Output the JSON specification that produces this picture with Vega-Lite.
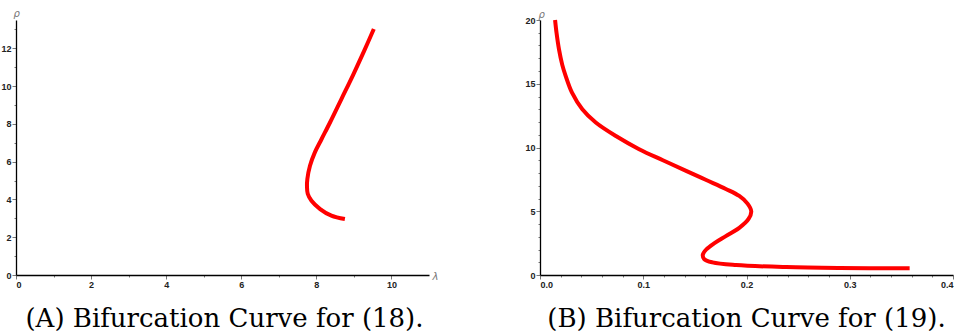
{
  "$schema": "https://vega.github.io/schema/vega-lite/v6.json",
  "padding": {"left": 0, "top": 8, "right": 0, "bottom": 0},
  "background": "white",
  "spacing": 111,
  "bounds": "flush",
  "config": {
    "view": {"stroke": null},
    "axis": {
      "labelFont": "Liberation Sans",
      "labelFontWeight": "bold",
      "labelFontSize": 9,
      "labelColor": "#222222",
      "domainColor": "#000000",
      "domainWidth": 1.3,
      "tickColor": "#555555",
      "tickWidth": 0.8,
      "grid": false,
      "titleFont": "DejaVu Sans",
      "titleFontStyle": "italic",
      "titleFontWeight": "normal",
      "titleFontSize": 10,
      "titleColor": "#777777",
      "labelPadding": 1
    },
    "title": {
      "font": "DejaVu Serif",
      "fontSize": 26,
      "fontWeight": "normal",
      "color": "#000000",
      "orient": "bottom",
      "anchor": "middle"
    }
  },
  "datasets": {
    "a": [
      {"i": 0, "lam": 8.76, "rho": 2.96},
      {"i": 1, "lam": 8.40, "rho": 3.14},
      {"i": 2, "lam": 8.10, "rho": 3.49},
      {"i": 3, "lam": 7.87, "rho": 3.93},
      {"i": 4, "lam": 7.77, "rho": 4.30},
      {"i": 5, "lam": 7.75, "rho": 4.70},
      {"i": 6, "lam": 7.76, "rho": 5.08},
      {"i": 7, "lam": 7.83, "rho": 5.78},
      {"i": 8, "lam": 7.96, "rho": 6.49},
      {"i": 9, "lam": 8.14, "rho": 7.20},
      {"i": 10, "lam": 8.37, "rho": 8.10},
      {"i": 11, "lam": 8.67, "rho": 9.33},
      {"i": 12, "lam": 8.98, "rho": 10.60},
      {"i": 13, "lam": 9.27, "rho": 11.85},
      {"i": 14, "lam": 9.53, "rho": 13.02}
    ],
    "b": [
      {"i": 0, "lam": 0.0146, "rho": 20.0},
      {"i": 1, "lam": 0.0160, "rho": 19.0},
      {"i": 2, "lam": 0.0184, "rho": 17.7},
      {"i": 3, "lam": 0.0215, "rho": 16.5},
      {"i": 4, "lam": 0.0249, "rho": 15.6},
      {"i": 5, "lam": 0.0310, "rho": 14.3},
      {"i": 6, "lam": 0.0410, "rho": 13.0},
      {"i": 7, "lam": 0.0540, "rho": 11.96},
      {"i": 8, "lam": 0.0735, "rho": 10.9},
      {"i": 9, "lam": 0.0960, "rho": 9.87},
      {"i": 10, "lam": 0.1190, "rho": 9.0},
      {"i": 11, "lam": 0.1415, "rho": 8.17},
      {"i": 12, "lam": 0.1610, "rho": 7.45},
      {"i": 13, "lam": 0.1800, "rho": 6.75},
      {"i": 14, "lam": 0.1930, "rho": 6.2},
      {"i": 15, "lam": 0.2010, "rho": 5.6},
      {"i": 16, "lam": 0.2046, "rho": 5.0},
      {"i": 17, "lam": 0.2020, "rho": 4.4},
      {"i": 18, "lam": 0.1930, "rho": 3.7},
      {"i": 19, "lam": 0.1800, "rho": 3.05},
      {"i": 20, "lam": 0.1690, "rho": 2.5},
      {"i": 21, "lam": 0.1610, "rho": 2.0},
      {"i": 22, "lam": 0.1577, "rho": 1.6},
      {"i": 23, "lam": 0.1590, "rho": 1.25},
      {"i": 24, "lam": 0.1670, "rho": 0.99},
      {"i": 25, "lam": 0.1900, "rho": 0.78},
      {"i": 26, "lam": 0.2385, "rho": 0.62},
      {"i": 27, "lam": 0.2900, "rho": 0.55},
      {"i": 28, "lam": 0.3580, "rho": 0.52}
    ]
  },
  "hconcat": [
    {
      "width": 413,
      "height": 255,
      "title": {"text": "(A) Bifurcation Curve for (18).", "dx": 2, "offset": 17},
      "data": {"name": "a"},
      "mark": {"type": "line", "color": "#ff0000", "strokeWidth": 4, "interpolate": "catmull-rom", "strokeCap": "butt"},
      "encoding": {
        "x": {
          "field": "lam", "type": "quantitative",
          "scale": {"domain": [0, 11], "nice": false, "zero": true},
          "axis": {
            "title": "λ",
            "titleAngle": 0,
            "titleX": 416, "titleY": 1,
            "titleAlign": "left", "titleBaseline": "middle",
            "format": "d",
            "values": [0,0.5,1,1.5,2,2.5,3,3.5,4,4.5,5,5.5,6,6.5,7,7.5,8,8.5,9,9.5,10,10.5],
            "labelExpr": "datum.value % 2 === 0 ? datum.label : ''",
            "tickSize": {"condition": {"test": "datum.value % 2 === 0", "value": 4}, "value": 2}
          }
        },
        "y": {
          "field": "rho", "type": "quantitative",
          "scale": {"domain": [0, 13.5], "nice": false, "zero": true},
          "axis": {
            "title": "ρ",
            "titleAngle": 0,
            "titleX": -3, "titleY": -2,
            "titleAlign": "left", "titleBaseline": "bottom",
            "format": "d",
            "values": [0,0.5,1,1.5,2,2.5,3,3.5,4,4.5,5,5.5,6,6.5,7,7.5,8,8.5,9,9.5,10,10.5,11,11.5,12,12.5,13],
            "labelExpr": "datum.value % 2 === 0 ? datum.label : ''",
            "tickSize": {"condition": {"test": "datum.value % 2 === 0", "value": 4}, "value": 2}
          }
        },
        "order": {"field": "i", "type": "quantitative"}
      }
    },
    {
      "width": 413,
      "height": 255,
      "title": {"text": "(B) Bifurcation Curve for (19).", "offset": 17},
      "data": {"name": "b"},
      "mark": {"type": "line", "color": "#ff0000", "strokeWidth": 4, "interpolate": "catmull-rom", "strokeCap": "butt"},
      "encoding": {
        "x": {
          "field": "lam", "type": "quantitative",
          "scale": {"domain": [0, 0.4], "nice": false, "zero": true},
          "axis": {
            "title": null,
            "values": [0,0.02,0.04,0.06,0.08,0.1,0.12,0.14,0.16,0.18,0.2,0.22,0.24,0.26,0.28,0.3,0.32,0.34,0.36,0.38,0.4],
            "format": ".1f",
            "labelExpr": "abs(round(datum.value*10) - datum.value*10) < 0.001 ? datum.label : ''",
            "tickSize": {"condition": {"test": "abs(round(datum.value*10) - datum.value*10) < 0.001", "value": 4}, "value": 2}
          }
        },
        "y": {
          "field": "rho", "type": "quantitative",
          "scale": {"domain": [0, 20], "nice": false, "zero": true},
          "axis": {
            "title": "ρ",
            "titleAngle": 0,
            "titleX": -2, "titleY": -1,
            "titleAlign": "left", "titleBaseline": "bottom",
            "values": [0,1,2,3,4,5,6,7,8,9,10,11,12,13,14,15,16,17,18,19,20],
            "labelExpr": "datum.value % 5 === 0 ? datum.label : ''",
            "tickSize": {"condition": {"test": "datum.value % 5 === 0", "value": 4}, "value": 2}
          }
        },
        "order": {"field": "i", "type": "quantitative"}
      }
    }
  ]
}
